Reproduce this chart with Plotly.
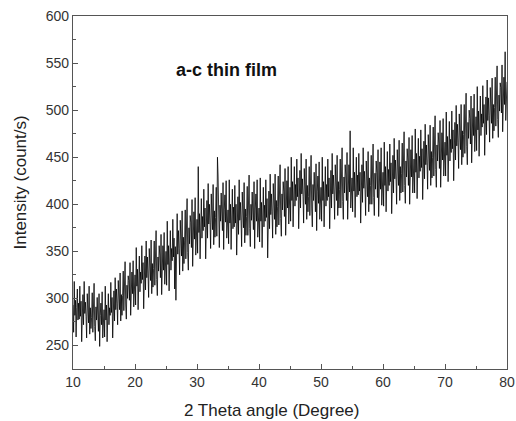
import plotly.graph_objects as go

# 2-theta start/step (degrees) and hand-read intensities (count/s), 0.1 deg step
theta_start = 10.0
theta_step = 0.1
intensity = [
    293, 264, 318, 282, 298, 259, 290, 310, 277, 295,
    278, 313, 281, 297, 254, 290, 304, 272, 318, 284,
    296, 281, 258, 305, 286, 274, 313, 262, 290, 268,
    280, 306, 264, 288, 316, 270, 255, 291, 277, 301,
    286, 265, 305, 249, 282, 295, 272, 307, 258, 280,
    288, 259, 313, 277, 293, 254, 285, 305, 272, 290,
    282, 317, 285, 301, 258, 294, 308, 276, 322, 288,
    310, 295, 272, 319, 300, 288, 327, 276, 304, 282,
    303, 329, 287, 311, 339, 293, 278, 314, 300, 324,
    319, 298, 338, 282, 315, 328, 305, 340, 291, 313,
    325, 293, 354, 313, 331, 288, 323, 345, 307, 328,
    316, 356, 320, 338, 289, 330, 345, 309, 361, 322,
    344, 326, 301, 353, 332, 319, 362, 305, 337, 312,
    332, 361, 314, 341, 372, 320, 303, 344, 329, 356,
    346, 322, 368, 304, 342, 356, 330, 370, 315, 339,
    350, 314, 382, 336, 356, 308, 347, 372, 330, 353,
    340, 384, 344, 364, 310, 355, 298, 332, 390, 347,
    372, 353, 325, 383, 359, 345, 393, 329, 365, 337,
    362, 394, 342, 372, 406, 349, 330, 375, 358, 388,
    381, 354, 405, 334, 376, 392, 363, 407, 346, 373,
    384, 348, 440, 370, 390, 342, 381, 406, 364, 387,
    372, 416, 376, 396, 342, 387, 404, 364, 422, 379,
    400, 381, 353, 411, 387, 373, 421, 357, 393, 365,
    386, 418, 366, 450, 430, 373, 354, 399, 382, 412,
    399, 372, 423, 352, 394, 410, 381, 425, 364, 391,
    394, 358, 426, 380, 400, 352, 391, 416, 374, 397,
    376, 420, 380, 400, 346, 391, 408, 368, 426, 383,
    402, 383, 355, 413, 389, 375, 423, 359, 395, 367,
    387, 419, 367, 397, 431, 374, 355, 400, 383, 413,
    400, 373, 424, 353, 395, 411, 382, 426, 365, 392,
    396, 360, 428, 382, 402, 354, 393, 418, 376, 399,
    382, 426, 386, 406, 343, 397, 414, 374, 432, 389,
    411, 392, 364, 422, 398, 384, 432, 368, 404, 376,
    398, 430, 378, 408, 442, 385, 366, 411, 394, 424,
    414, 387, 438, 367, 409, 425, 396, 440, 379, 406,
    418, 382, 450, 404, 424, 376, 415, 440, 398, 421,
    404, 448, 408, 428, 374, 419, 436, 396, 454, 411,
    427, 408, 380, 438, 414, 400, 448, 384, 420, 392,
    408, 440, 388, 418, 452, 395, 376, 421, 404, 434,
    419, 392, 443, 372, 414, 430, 401, 445, 384, 411,
    418, 382, 450, 404, 424, 376, 415, 440, 398, 421,
    404, 448, 408, 428, 374, 419, 436, 396, 454, 411,
    431, 412, 384, 442, 418, 404, 452, 388, 424, 396,
    416, 448, 396, 426, 460, 403, 384, 429, 412, 442,
    431, 404, 455, 384, 426, 442, 413, 478, 396, 423,
    428, 392, 460, 414, 434, 386, 425, 450, 408, 431,
    410, 454, 414, 434, 380, 425, 442, 402, 460, 417,
    435, 416, 388, 446, 422, 408, 456, 392, 428, 400,
    420, 452, 400, 430, 464, 407, 388, 433, 416, 446,
    434, 407, 458, 387, 429, 445, 416, 460, 399, 426,
    434, 398, 466, 420, 440, 392, 431, 456, 414, 437,
    420, 464, 424, 444, 390, 435, 452, 412, 470, 427,
    447, 428, 400, 458, 434, 420, 468, 404, 440, 412,
    433, 465, 413, 443, 477, 420, 401, 446, 429, 459,
    447, 420, 471, 400, 442, 458, 429, 473, 412, 439,
    448, 412, 480, 434, 454, 406, 445, 470, 428, 451,
    435, 479, 439, 459, 405, 450, 467, 427, 485, 442,
    463, 444, 416, 474, 450, 436, 484, 420, 456, 428,
    450, 482, 430, 460, 494, 437, 418, 463, 446, 476,
    465, 438, 489, 418, 460, 476, 447, 491, 430, 457,
    466, 430, 498, 452, 472, 424, 463, 488, 446, 469,
    455, 499, 459, 479, 425, 470, 487, 447, 505, 462,
    485, 466, 438, 496, 472, 458, 506, 442, 478, 450,
    474, 506, 454, 484, 518, 461, 442, 487, 470, 500,
    491, 464, 515, 444, 486, 502, 473, 517, 456, 483,
    493, 457, 525, 479, 499, 451, 490, 515, 473, 496,
    482, 526, 486, 506, 452, 497, 514, 474, 532, 489,
    513, 494, 466, 524, 500, 486, 534, 470, 506, 478,
    503, 535, 483, 513, 547, 490, 471, 516, 499, 529,
    524, 497, 548, 477, 519, 535, 506, 562, 489, 516,
    530,
]
theta = [round(theta_start + i * theta_step, 2) for i in range(len(intensity))]

x_ticks = [10, 20, 30, 40, 50, 60, 70, 80]
y_ticks = [250, 300, 350, 400, 450, 500, 550, 600]
label_text = "a-c thin film"
x_title = "2 Theta angle (Degree)"
y_title = "Intensity (count/s)"

FONT = "Liberation Sans, Arial, sans-serif"

fig = go.Figure()
fig.add_trace(go.Scatter(x=theta, y=intensity, mode="lines",
                         line=dict(color="#000000", width=0.8), showlegend=False))

axis_common = dict(showline=True, linecolor="#555555", linewidth=1.3, mirror=True,
                   ticks="inside", ticklen=5, tickwidth=1.2, tickcolor="#555555", showgrid=False,
                   zeroline=False, automargin=False,
                   tickfont=dict(family=FONT, size=14, color="#333333"),
                   minor=dict(ticks="inside", ticklen=3, tickcolor="#555555"))

fig.update_xaxes(range=[10, 80], tickvals=x_ticks, minor_dtick=5, **axis_common)
fig.update_yaxes(range=[225, 600], tickvals=y_ticks, minor_dtick=25, **axis_common)

fig.add_annotation(x=34.7, y=543, text="<b>" + label_text + "</b>", showarrow=False,
                   font=dict(family=FONT, size=18, color="#111111"))
fig.add_annotation(xref="paper", yref="paper", x=0.5, y=0, xshift=-19, yshift=-41,
                   text=x_title, showarrow=False, yanchor="middle",
                   font=dict(family=FONT, size=17, color="#222222"))
fig.add_annotation(xref="paper", yref="paper", x=0, y=0.5, xshift=-53, yshift=10,
                   text=y_title, showarrow=False, textangle=-90, xanchor="center",
                   font=dict(family=FONT, size=17, color="#222222"))

fig.update_layout(width=516, height=421, margin=dict(l=73, r=9, t=16, b=52),
                  paper_bgcolor="white", plot_bgcolor="white")

fig.write_html("out.html")
